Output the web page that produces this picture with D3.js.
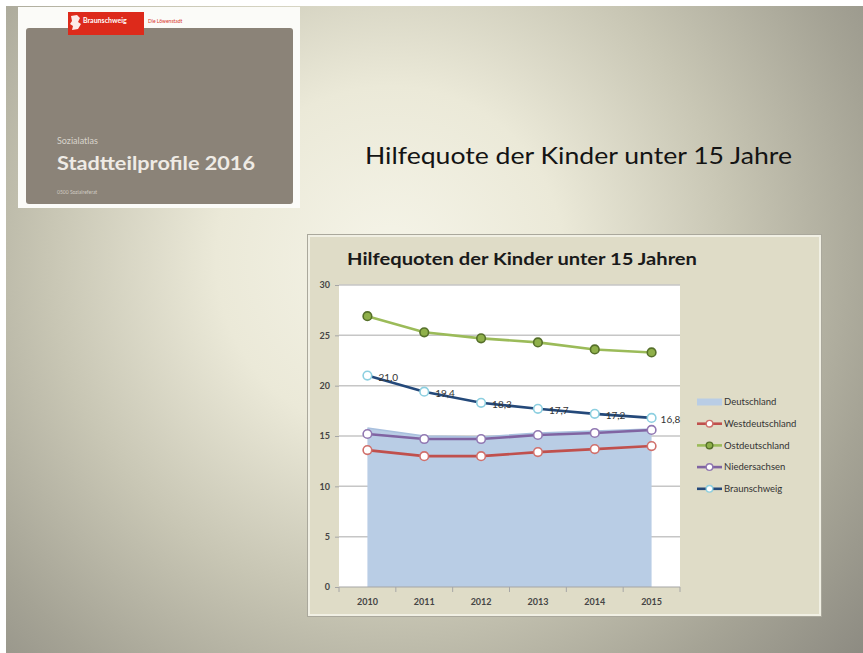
<!DOCTYPE html>
<html>
<head>
<meta charset="utf-8">
<script src="https://cdn.jsdelivr.net/npm/d3@7"></script>
<style>
  html, body { margin: 0; padding: 0; background: #fff; }
  svg { display: block; }
  text { font-family: Lato, "Open Sans", sans-serif; }
</style>
</head>
<body>
<script>
// chart values
let years = [2010, 2011, 2012, 2013, 2014, 2015];
let deutschland = [15.8, 15.0, 14.9, 15.3, 15.5, 15.7];
let westdeutschland = [13.6, 13.0, 13.0, 13.4, 13.7, 14.0];
let ostdeutschland = [26.9, 25.3, 24.7, 24.3, 23.6, 23.3];
let niedersachsen = [15.2, 14.7, 14.7, 15.1, 15.3, 15.6];
let braunschweig = [21.0, 19.4, 18.3, 17.7, 17.2, 16.8];
let yTicks = [0, 5, 10, 15, 20, 25, 30];
let legendNames = ["Deutschland", "Westdeutschland", "Ostdeutschland", "Niedersachsen", "Braunschweig"];

let width = 863;
let height = 653;

let svg = d3.select("body").append("svg")
  .attr("width", width)
  .attr("height", height);

// slide background
let defs = svg.append("defs");
let grad = defs.append("radialGradient")
  .attr("id", "slidebg")
  .attr("gradientUnits", "userSpaceOnUse")
  .attr("cx", 390).attr("cy", 260).attr("r", 620);
[[0, "#f5f4e8"], [0.28, "#ebe9d8"], [0.55, "#c8c6b4"], [0.8, "#a5a395"], [1, "#8c8a81"]]
  .forEach(([o, c]) => grad.append("stop").attr("offset", o).attr("stop-color", c));

svg.append("rect")
  .attr("x", 6).attr("y", 6)
  .attr("width", width - 6).attr("height", height - 6)
  .attr("fill", "url(#slidebg)");

// thumbnail of the report cover
let thumb = svg.append("g").attr("class", "thumb");
thumb.append("rect")
  .attr("x", 18).attr("y", 7).attr("width", 282).attr("height", 201)
  .attr("fill", "#fbfbf8");
thumb.append("rect")
  .attr("x", 26).attr("y", 28).attr("width", 267).attr("height", 176)
  .attr("rx", 3)
  .attr("fill", "#8b8378");
thumb.append("rect")
  .attr("x", 68).attr("y", 12).attr("width", 76).attr("height", 23)
  .attr("fill", "#dd2a1b");
thumb.append("path")
  .attr("d", "M71,16 l6,-1 l3,3 l-2,4 l3,2 l-3,5 l-6,1 l1,-4 l-3,-2 l2,-3 z")
  .attr("fill", "#fff")
  .attr("opacity", 0.9);
thumb.append("text")
  .text("Braunschweig")
  .attr("x", 83).attr("y", 23)
  .attr("font-size", 7).attr("font-weight", "bold")
  .attr("fill", "#fff");
thumb.append("text")
  .text("Die Löwenstadt")
  .attr("x", 148).attr("y", 23)
  .attr("font-size", 5)
  .attr("fill", "#d9342a");
thumb.append("text")
  .text("Sozialatlas")
  .attr("x", 57).attr("y", 144)
  .attr("font-size", 9)
  .attr("fill", "#d8d3cb");
thumb.append("text")
  .text("Stadtteilprofile 2016")
  .attr("x", 57).attr("y", 170)
  .attr("font-size", 19).attr("font-weight", "bold")
  .attr("textLength", 198).attr("lengthAdjust", "spacingAndGlyphs")
  .attr("fill", "#efebe5");
thumb.append("text")
  .text("0500 Sozialreferat")
  .attr("x", 57).attr("y", 194)
  .attr("font-size", 5)
  .attr("fill", "#d0cbc2");

// slide title
svg.append("text")
  .text("Hilfequote der Kinder unter 15 Jahre")
  .attr("x", 365).attr("y", 164)
  .attr("font-size", 23)
  .attr("textLength", 427).attr("lengthAdjust", "spacingAndGlyphs")
  .attr("fill", "#141414");

// chart box
svg.append("rect")
  .attr("x", 307.5).attr("y", 234.5).attr("width", 514).attr("height", 382)
  .attr("fill", "none").attr("stroke", "#aaa89c").attr("stroke-width", 1);
svg.append("rect")
  .attr("x", 309).attr("y", 236).attr("width", 511).attr("height", 379)
  .attr("fill", "#dfdcc7").attr("stroke", "#f1f0e4").attr("stroke-width", 2);

svg.append("text")
  .text("Hilfequoten der Kinder unter 15 Jahren")
  .attr("x", 347).attr("y", 265)
  .attr("font-size", 17).attr("font-weight", "bold")
  .attr("textLength", 350).attr("lengthAdjust", "spacingAndGlyphs")
  .attr("fill", "#1a1a1a");

let x = d3.scaleBand().domain(years).range([339, 680]);
let y = d3.scaleLinear().domain([0, 30]).range([587, 285]);
let cx = d => x(d) + x.bandwidth() / 2;

let plot = svg.append("g").attr("class", "plot");

plot.append("rect")
  .attr("x", x.range()[0]).attr("y", y(30))
  .attr("width", x.range()[1] - x.range()[0]).attr("height", y(0) - y(30))
  .attr("fill", "#fff");

plot.selectAll("line.grid")
  .data(yTicks.filter(t => t > 0))
  .enter()
  .append("line")
  .attr("class", "grid")
  .attr("x1", x.range()[0]).attr("x2", x.range()[1])
  .attr("y1", d => y(d)).attr("y2", d => y(d))
  .attr("stroke", "#c6c6c6")
  .attr("stroke-width", 1.5);

// y axis
let yAxis = plot.append("g")
  .attr("transform", `translate(${x.range()[0]},0)`)
  .call(d3.axisLeft(y).tickValues(yTicks).tickSize(4).tickPadding(5));
yAxis.select(".domain").remove();
yAxis.selectAll(".tick line").attr("stroke", "#a6a6a6");
yAxis.selectAll("text")
  .attr("font-size", 9).attr("font-family", "Lato, sans-serif")
  .attr("font-weight", "bold").attr("fill", "#454545");

// area for Deutschland
let area = d3.area()
  .x((d, i) => cx(years[i]))
  .y0(y(0))
  .y1(d => y(d));
plot.append("path")
  .datum(deutschland)
  .attr("d", area)
  .attr("fill", "#b9cde5");
plot.append("path")
  .datum(deutschland)
  .attr("d", d3.line().x((d, i) => cx(years[i])).y(d => y(d)))
  .attr("fill", "none")
  .attr("stroke", "#a9c0de")
  .attr("stroke-width", 1.5);

// x axis
plot.append("line")
  .attr("x1", x.range()[0]).attr("x2", x.range()[1])
  .attr("y1", y(0)).attr("y2", y(0))
  .attr("stroke", "#a6a6a6").attr("stroke-width", 1.2);
plot.selectAll("line.xtick")
  .data(d3.range(years.length + 1))
  .enter()
  .append("line")
  .attr("class", "xtick")
  .attr("x1", i => x.range()[0] + i * x.step())
  .attr("x2", i => x.range()[0] + i * x.step())
  .attr("y1", y(0)).attr("y2", y(0) + 5)
  .attr("stroke", "#a6a6a6");
let xAxis = plot.append("g")
  .attr("transform", `translate(0,${y(0)})`)
  .call(d3.axisBottom(x).tickSize(0).tickPadding(12));
xAxis.select(".domain").remove();
xAxis.selectAll("text")
  .attr("font-size", 9).attr("font-family", "Lato, sans-serif")
  .attr("font-weight", "bold").attr("fill", "#454545");

// line series
let series = [
  { name: "Westdeutschland", values: westdeutschland, line: "#c0504d", mark: "#d0706c", fill: "#fff" },
  { name: "Niedersachsen", values: niedersachsen, line: "#8064a2", mark: "#9178b2", fill: "#fff" },
  { name: "Ostdeutschland", values: ostdeutschland, line: "#9bbb59", mark: "#56702a", fill: "#8fb04a" },
  { name: "Braunschweig", values: braunschweig, line: "#24497a", mark: "#8ccfe0", fill: "#fff" }
];

let line = d3.line()
  .x((d, i) => cx(years[i]))
  .y(d => y(d));

let sg = plot.selectAll("g.series")
  .data(series)
  .enter()
  .append("g")
  .attr("class", "series");
sg.append("path")
  .attr("d", s => line(s.values))
  .attr("fill", "none")
  .attr("stroke", s => s.line)
  .attr("stroke-width", 2.6);
sg.each(function(s) {
  d3.select(this)
    .selectAll("circle")
    .data(s.values)
    .enter()
    .append("circle")
    .attr("cx", (d, i) => cx(years[i]))
    .attr("cy", d => y(d))
    .attr("r", 4.3)
    .attr("fill", s.fill)
    .attr("stroke", s.mark)
    .attr("stroke-width", 1.6);
});

// data labels for Braunschweig
let fmt = d3.formatLocale({ decimal: ",", thousands: ".", grouping: [3], currency: ["", " €"] }).format(".1f");
plot.selectAll("text.dlabel")
  .data(braunschweig)
  .enter()
  .append("text")
  .attr("class", "dlabel")
  .text(d => fmt(d))
  .attr("x", (d, i) => cx(years[i]) + (i === years.length - 1 ? 9 : 11))
  .attr("y", d => y(d) + 5)
  .attr("font-size", 10)
  .attr("fill", "#333");

// legend
let legendColors = {
  Deutschland: { line: "#b9cde5" },
  Westdeutschland: series[0],
  Ostdeutschland: series[2],
  Niedersachsen: series[1],
  Braunschweig: series[3]
};
let legend = svg.append("g")
  .attr("class", "legend")
  .attr("transform", "translate(697,402)");
let lg = legend.selectAll("g")
  .data(legendNames)
  .enter()
  .append("g")
  .attr("transform", (d, i) => `translate(0,${i * 21.7})`);
lg.each(function(name) {
  let g = d3.select(this);
  let c = legendColors[name];
  if (name === "Deutschland") {
    g.append("rect")
      .attr("x", 0).attr("y", -3.5).attr("width", 25).attr("height", 7)
      .attr("fill", c.line);
  } else {
    g.append("line")
      .attr("x1", 0).attr("x2", 25).attr("y1", 0).attr("y2", 0)
      .attr("stroke", c.line).attr("stroke-width", 2.6);
    g.append("circle")
      .attr("cx", 12.5).attr("cy", 0).attr("r", 3.3)
      .attr("fill", c.fill).attr("stroke", c.mark).attr("stroke-width", 1.4);
  }
  g.append("text")
    .text(name)
    .attr("x", 27).attr("y", 3.3)
    .attr("font-size", 9.5)
    .attr("fill", "#333");
});
</script>
</body>
</html>
